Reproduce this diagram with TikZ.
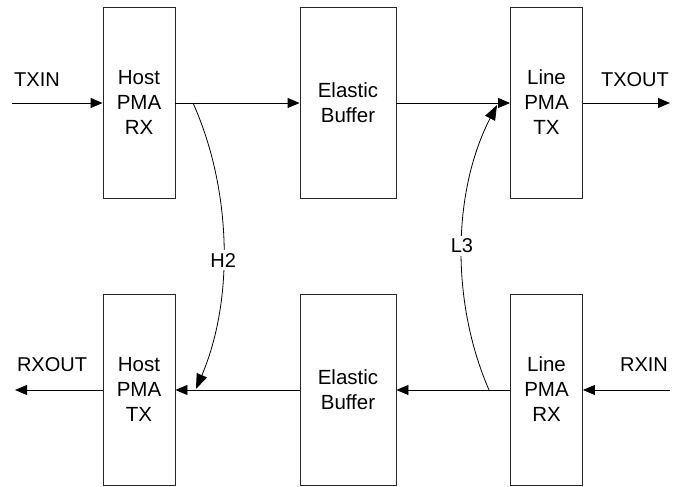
\documentclass[tikz,border=0pt]{standalone}
\usepackage{fontspec}
\setmainfont{Liberation Sans}
\usetikzlibrary{arrows.meta}
\begin{document}
\begin{tikzpicture}[x=1pt,y=1pt,
  blk/.style={draw=black!85,line width=0.9pt,minimum width=72pt,minimum height=191pt,inner sep=0pt,align=center,font=\fontsize{20.5}{25}\selectfont},
  wblk/.style={blk,minimum width=96pt},
  lbl/.style={font=\fontsize{20}{22}\selectfont,inner sep=1pt},
  conn/.style={line width=0.9pt,-{Triangle[length=12pt,width=10pt]}},
  bendy/.style={line width=0.8pt,-{Triangle[length=15pt,width=11pt]}}
]
\useasboundingbox (0,0) rectangle (673,487);
% boxes (top row y centre 384.5, bottom row 97.5)
\node[blk]  (hrx) at (139,384.5) {Host\\PMA\\RX};
\node[wblk] (ebt) at (348,384.5) {Elastic\\Buffer};
\node[blk]  (ltx) at (546.5,384.5) {Line\\PMA\\TX};
\node[blk]  (htx) at (139,97.5) {Host\\PMA\\TX};
\node[wblk] (ebb) at (348,97.5) {Elastic\\Buffer};
\node[blk]  (lrx) at (546.5,97.5) {Line\\PMA\\RX};
% free ends
\coordinate (txin) at (12,384);
\coordinate (txout) at (670,384);
\coordinate (rxin) at (670,97);
\coordinate (rxout) at (15,97);
% labels
\node[lbl] (ltxin) at (37,407) {TXIN};
\node[lbl] (ltxout) at (635,407) {TXOUT};
\node[lbl] (lrxout) at (52,122) {RXOUT};
\node[lbl] (lrxin) at (644,122) {RXIN};
% straight connectors
\draw[conn] (txin) -- (txin -| hrx.west);
\draw[conn] (hrx.east |- txin) -- (ebt.west |- txin);
\draw[conn] (ebt.east |- txin) -- (ltx.west |- txin);
\draw[conn] (ltx.east |- txin) -- (txout);
\draw[conn] (rxin) -- (rxin -| lrx.east);
\draw[conn] (lrx.west |- rxin) -- (ebb.east |- rxin);
\draw[conn] (ebb.west |- rxin) -- (htx.east |- rxin);
\draw[conn] (htx.west |- rxin) -- (rxout);
% loopbacks
\coordinate (h2s) at (193,384);
\coordinate (h2e) at (196,98);
\coordinate (l3s) at (489,97);
\coordinate (l3e) at (497,382);
\draw[bendy] (h2s) .. controls (232,297) and (234,187) .. node[pos=0.55,fill=white,lbl,inner sep=3pt] (h2) {H2} (h2e);
\draw[bendy] (l3s) .. controls (450,187) and (453,297) .. node[pos=0.5,fill=white,lbl,inner sep=3pt] (l3) {L3} (l3e);
\end{tikzpicture}
\end{document}
